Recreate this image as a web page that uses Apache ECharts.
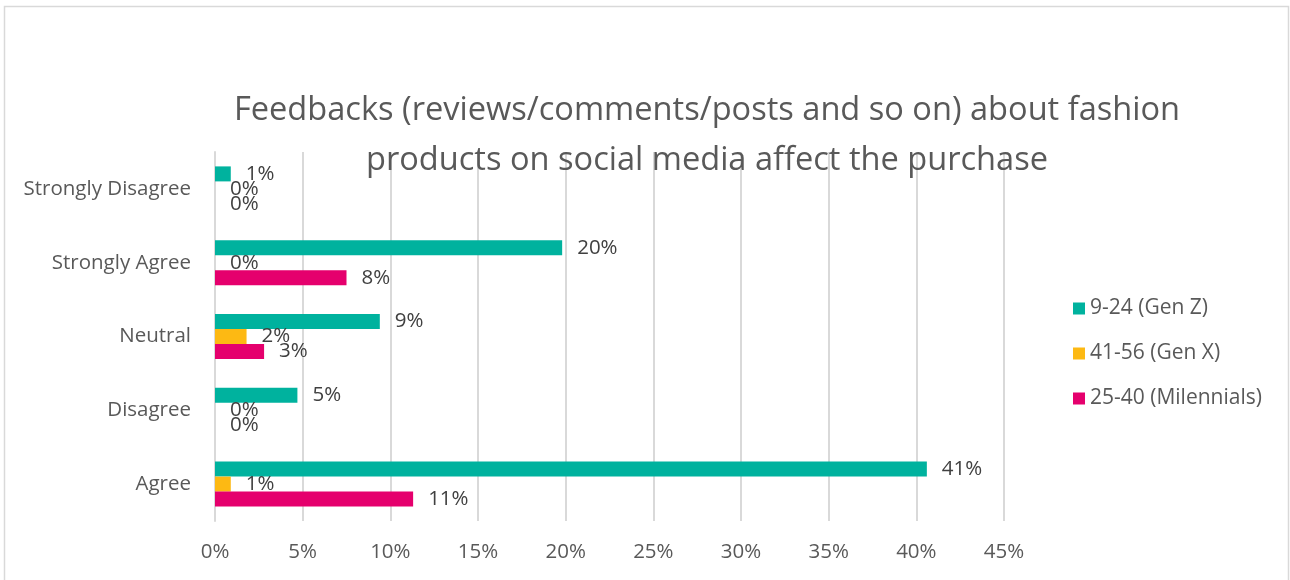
<!DOCTYPE html>
<html>
<head>
<meta charset="utf-8">
<script src="https://cdn.jsdelivr.net/npm/echarts@6/dist/echarts.min.js"></script>
<style>
  html, body { margin: 0; padding: 0; background: #fff; }
  #chart { width: 1290px; height: 580px; }
</style>
</head>
<body>
<div id="chart"></div>
<script>
// Response categories, bottom to top
const categories = ['Agree', 'Disagree', 'Neutral', 'Strongly Agree', 'Strongly Disagree'];

// Share of respondents per generation (fraction of 1)
const genZ = [0.406, 0.047, 0.094, 0.198, 0.009];
const genX = [0.009, 0, 0.018, 0, 0];
const millennials = [0.113, 0, 0.028, 0.075, 0];

const seriesNames = ['9-24 (Gen Z)', '41-56 (Gen X)', '25-40 (Milennials)'];
const xTicks = [0, 0.05, 0.10, 0.15, 0.20, 0.25, 0.30, 0.35, 0.40, 0.45];

const colors = { genZ: '#00b29e', genX: '#fdb913', millennials: '#e5006d' };
const textFont = 'Open Sans';
const pct = v => Math.round(v * 100) + '%';

const labelStyle = {
  show: true,
  position: 'right',
  distance: 15,
  fontFamily: textFont,
  fontSize: 20.5,
  color: '#404040',
  formatter: p => pct(p.value)
};

const makeSeries = (name, data, color) => ({
  name: name,
  type: 'bar',
  data: data,
  barWidth: 15,
  barGap: '0%',
  itemStyle: { color: color },
  label: labelStyle,
  emphasis: { disabled: true }
});

const chart = echarts.init(document.getElementById('chart'), null, { renderer: 'canvas' });
chart.setOption({
  animation: false,
  backgroundColor: '#fff',
  title: {
    text: 'Feedbacks (reviews/comments/posts and so on) about fashion\nproducts on social media affect the purchase',
    left: 702,
    textAlign: 'center',
    top: 81,
    textStyle: {
      fontFamily: 'Open Sans',
      fontSize: 32.6,
      fontWeight: 'normal',
      color: '#595959',
      lineHeight: 50
    }
  },
  legend: {
    orient: 'vertical',
    left: 1068,
    top: 293,
    itemWidth: 12,
    itemHeight: 12,
    itemGap: 24,
    icon: 'rect',
    data: seriesNames,
    textStyle: { fontFamily: textFont, fontSize: 21, color: '#595959' }
  },
  grid: { left: 215, right: 286, top: 152, bottom: 59, containLabel: false },
  xAxis: {
    type: 'value',
    min: 0,
    max: xTicks[xTicks.length - 1],
    interval: 0.05,
    axisLine: { show: false },
    axisTick: { show: false },
    splitLine: { lineStyle: { color: '#d9d9d9', width: 2 } },
    axisLabel: {
      fontFamily: textFont,
      fontSize: 20.5,
      color: '#595959',
      margin: 21,
      formatter: v => pct(v)
    }
  },
  yAxis: {
    type: 'category',
    data: categories,
    axisLine: { show: true, lineStyle: { color: '#d9d9d9', width: 2 } },
    axisTick: { show: false },
    axisLabel: {
      fontFamily: textFont,
      fontSize: 20.5,
      color: '#595959',
      margin: 24
    }
  },
  series: [
    makeSeries(seriesNames[0], genZ, colors.genZ),
    makeSeries(seriesNames[1], genX, colors.genX),
    makeSeries(seriesNames[2], millennials, colors.millennials)
  ],
  graphic: [{
    type: 'rect',
    silent: true,
    shape: { x: 4.5, y: 6.5, width: 1284, height: 600 },
    style: { fill: null, stroke: '#d9d9d9', lineWidth: 1.5 }
  }]
});
</script>
</body>
</html>
